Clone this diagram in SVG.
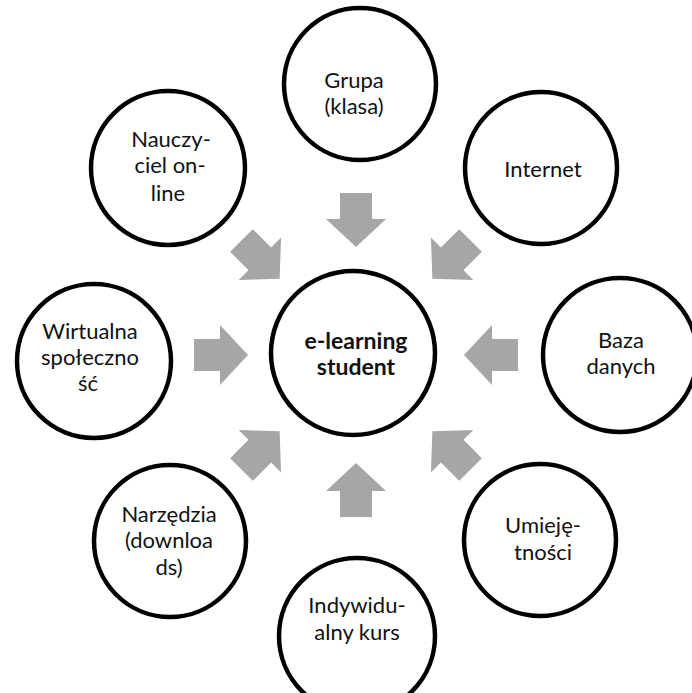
<svg xmlns="http://www.w3.org/2000/svg" width="692" height="693" viewBox="0 0 692 693">
  <style>
    .node circle { fill: #ffffff; stroke: #000000; stroke-width: 4.5; }
    .node text { font-family: Lato, "Liberation Sans", sans-serif; font-size: 22px; fill: #111111; text-anchor: middle; }
    #center text { font-weight: bold; font-size: 23px; }
    .arrow { fill: #a6a6a6; }
  </style>
  <defs>
    <polygon id="arr" points="-162,-16 -136,-16 -136,-30 -108,0 -136,30 -136,16 -162,16"/>
  </defs>
  <rect width="692" height="693" fill="#ffffff"/>
  <g id="connectors" class="arrow">
    <use href="#arr" transform="translate(356,355) rotate(0)"/>
    <use href="#arr" transform="translate(356,355) rotate(45)"/>
    <use href="#arr" transform="translate(356,355) rotate(90)"/>
    <use href="#arr" transform="translate(356,355) rotate(135)"/>
    <use href="#arr" transform="translate(356,355) rotate(180)"/>
    <use href="#arr" transform="translate(356,355) rotate(225)"/>
    <use href="#arr" transform="translate(356,355) rotate(270)"/>
    <use href="#arr" transform="translate(356,355) rotate(315)"/>
  </g>
  <g id="center" class="node">
    <circle cx="353" cy="353" r="82"/>
    <text x="356" y="349">e-learning</text>
    <text x="356" y="375">student</text>
  </g>
  <g id="grupa" class="node">
    <circle cx="360" cy="84" r="76"/>
    <text x="354" y="88">Grupa</text>
    <text x="354" y="114">(klasa)</text>
  </g>
  <g id="internet" class="node">
    <circle cx="541" cy="168" r="76"/>
    <text x="543" y="177">Internet</text>
  </g>
  <g id="baza" class="node">
    <circle cx="620" cy="355" r="77"/>
    <text x="621" y="348">Baza</text>
    <text x="621" y="374">danych</text>
  </g>
  <g id="umiejetnosci" class="node">
    <circle cx="540" cy="540" r="76"/>
    <text x="543" y="533">Umieję-</text>
    <text x="543" y="560">tności</text>
  </g>
  <g id="indywidualny" class="node">
    <circle cx="357" cy="636" r="78"/>
    <text x="357" y="613">Indywidu-</text>
    <text x="357" y="640">alny kurs</text>
  </g>
  <g id="narzedzia" class="node">
    <circle cx="170" cy="541" r="76"/>
    <text x="169" y="522">Narzędzia</text>
    <text x="169" y="548">(downloa</text>
    <text x="169" y="575">ds)</text>
  </g>
  <g id="wirtualna" class="node">
    <circle cx="94" cy="361" r="77"/>
    <text x="90" y="339">Wirtualna</text>
    <text x="90" y="365">społeczno</text>
    <text x="88" y="391">ść</text>
  </g>
  <g id="nauczyciel" class="node">
    <circle cx="168" cy="168" r="77"/>
    <text x="171" y="147">Nauczy-</text>
    <text x="170" y="173">ciel on-</text>
    <text x="168" y="201">line</text>
  </g>
</svg>
